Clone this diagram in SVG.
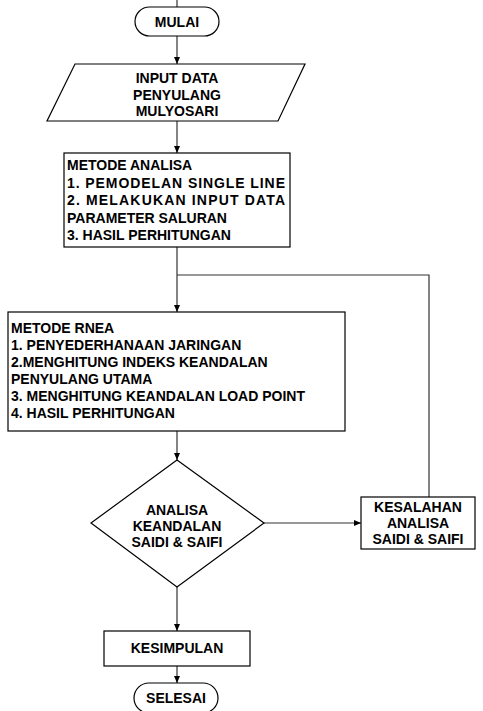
<svg xmlns="http://www.w3.org/2000/svg" width="483" height="711" viewBox="0 0 483 711">
<defs>
<marker id="ah" markerWidth="8" markerHeight="8" refX="7" refY="4" orient="auto" markerUnits="userSpaceOnUse">
<path d="M0,1 L7,4 L0,7 Z" fill="#000"/>
</marker>
<style>
.s{fill:#fff;stroke:#000;stroke-width:1.2}
.c{fill:none;stroke:#333;stroke-width:1.2}
.t{font-family:"Liberation Sans",Arial,sans-serif;font-weight:bold;font-size:14px;fill:#000}
.m{text-anchor:middle}
</style>
</defs>
<rect width="483" height="711" fill="#fff"/>
<g id="connectors">
<path class="c" d="M177,0 V7"/>
<path class="c" d="M177,36 V64" marker-end="url(#ah)"/>
<path class="c" d="M177,121 V153" marker-end="url(#ah)"/>
<path class="c" d="M177,247 V312" marker-end="url(#ah)"/>
<path class="c" d="M429,497 V275 H177"/>
<path class="c" d="M177,431 V460" marker-end="url(#ah)"/>
<path class="c" d="M264,523 H361" marker-end="url(#ah)"/>
<path class="c" d="M177,587 V631" marker-end="url(#ah)"/>
<path class="c" d="M177,666 V683" marker-end="url(#ah)"/>
</g>
<g id="mulai">
<rect class="s" x="135" y="7" width="84" height="29" rx="14.5"/>
<text class="t m" x="177" y="26.5">MULAI</text>
</g>
<g id="input">
<polygon class="s" points="75,64 305,64 278,121 47,121"/>
<text class="t m" x="177" y="83">INPUT DATA</text>
<text class="t m" x="177" y="99.5">PENYULANG</text>
<text class="t m" x="177" y="116">MULYOSARI</text>
</g>
<g id="metode-analisa">
<rect class="s" x="64" y="153" width="226" height="94"/>
<text class="t" x="67" y="170">METODE ANALISA</text>
<text class="t" x="67" y="187.5" textLength="218" lengthAdjust="spacing">1. PEMODELAN SINGLE LINE</text>
<text class="t" x="67" y="205" textLength="218" lengthAdjust="spacing">2. MELAKUKAN INPUT DATA</text>
<text class="t" x="67" y="222.5">PARAMETER SALURAN</text>
<text class="t" x="67" y="240">3. HASIL PERHITUNGAN</text>
</g>
<g id="metode-rnea">
<rect class="s" x="8" y="312" width="337" height="119"/>
<text class="t" x="11" y="333">METODE RNEA</text>
<text class="t" x="11" y="350">1. PENYEDERHANAAN JARINGAN</text>
<text class="t" x="11" y="367">2.MENGHITUNG INDEKS KEANDALAN</text>
<text class="t" x="11" y="384">PENYULANG UTAMA</text>
<text class="t" x="11" y="401">3. MENGHITUNG KEANDALAN LOAD POINT</text>
<text class="t" x="11" y="418">4. HASIL PERHITUNGAN</text>
</g>
<g id="analisa">
<polygon class="s" points="177,460 264,523 177,587 91,523"/>
<text class="t m" x="177" y="515">ANALISA</text>
<text class="t m" x="177" y="531">KEANDALAN</text>
<text class="t m" x="177" y="547">SAIDI &amp; SAIFI</text>
</g>
<g id="kesalahan">
<rect class="s" x="361" y="497" width="114" height="52"/>
<text class="t m" x="418" y="512">KESALAHAN</text>
<text class="t m" x="418" y="528">ANALISA</text>
<text class="t m" x="418" y="544">SAIDI &amp; SAIFI</text>
</g>
<g id="kesimpulan">
<rect class="s" x="104" y="631" width="146" height="35"/>
<text class="t m" x="177" y="653">KESIMPULAN</text>
</g>
<g id="selesai">
<rect class="s" x="134" y="683" width="84" height="30" rx="15"/>
<text class="t m" x="176" y="703">SELESAI</text>
</g>
</svg>
